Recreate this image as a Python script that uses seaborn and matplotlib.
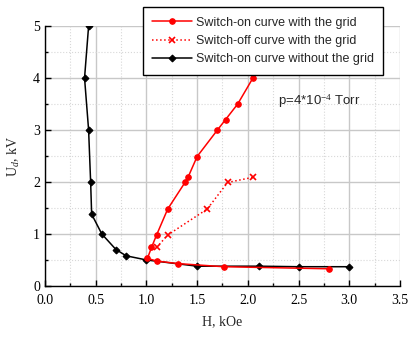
import matplotlib
matplotlib.use("Agg")
import matplotlib.pyplot as plt
from matplotlib.ticker import MultipleLocator
import seaborn as sns
import pandas as pd

# Switch-on curve with the grid (red, solid, circles)
on_grid_h = [2.80, 1.76, 1.31, 1.10, 1.01, 1.05, 1.10, 1.21, 1.38, 1.41, 1.50, 1.70, 1.78, 1.90, 2.05]
on_grid_u = [0.33, 0.37, 0.43, 0.48, 0.53, 0.74, 0.98, 1.48, 1.99, 2.09, 2.49, 3.00, 3.20, 3.50, 4.00]

# Switch-off curve with the grid (red, dotted, x)
off_grid_h = [1.10, 1.21, 1.60, 1.80, 2.05]
off_grid_u = [0.74, 0.98, 1.48, 1.99, 2.09]

# Switch-on curve without the grid (black, diamonds)
on_nogrid_h = [0.43, 0.39, 0.43, 0.45, 0.46, 0.56, 0.70, 0.80, 1.00, 1.50, 2.11, 2.50, 3.00]
on_nogrid_u = [5.00, 4.00, 3.00, 2.00, 1.38, 1.00, 0.70, 0.58, 0.50, 0.38, 0.38, 0.37, 0.37]

labels = ["Switch-on curve with the grid",
          "Switch-off curve with the grid",
          "Switch-on curve without the grid"]

sns.set_style("white")
plt.rcParams['font.family'] = ['Liberation Serif', 'DejaVu Serif']
plt.rcParams['mathtext.fontset'] = 'custom'
plt.rcParams['mathtext.rm'] = 'Liberation Serif'
plt.rcParams['mathtext.it'] = 'Liberation Serif:italic'

fig = plt.figure(figsize=(4.09, 3.38), dpi=100)
ax = fig.add_axes([0.110, 0.154, 0.868, 0.769])

df1 = pd.DataFrame({"H": on_grid_h, "U": on_grid_u})
df2 = pd.DataFrame({"H": off_grid_h, "U": off_grid_u})
df3 = pd.DataFrame({"H": on_nogrid_h, "U": on_nogrid_u})

sns.lineplot(data=df3, x="H", y="U", sort=False, estimator=None, ax=ax, color="black", lw=1.1,
             marker="D", markersize=3.5, markeredgecolor="black", label=labels[2], zorder=3)
sns.lineplot(data=df1, x="H", y="U", sort=False, estimator=None, ax=ax, color="#ff0000", lw=1.1,
             marker="o", markersize=4, markeredgecolor="#ff0000", label=labels[0], zorder=4)
sns.lineplot(data=df2, x="H", y="U", sort=False, estimator=None, ax=ax, color="#ff0000", lw=1.1,
             linestyle=":", marker="x", markersize=4.5, markeredgewidth=1.2,
             markeredgecolor="#ff0000", label=labels[1], zorder=4)

ax.set_xlim(0, 3.5)
ax.set_ylim(0, 5)
ax.xaxis.set_major_locator(MultipleLocator(0.5))
ax.xaxis.set_minor_locator(MultipleLocator(0.25))
ax.yaxis.set_major_locator(MultipleLocator(1))
ax.yaxis.set_minor_locator(MultipleLocator(0.5))
ax.xaxis.set_major_formatter(plt.FormatStrFormatter('%.1f'))
ax.yaxis.set_major_formatter(plt.FormatStrFormatter('%d'))

ax.grid(which='major', color='#c8c8c8', lw=1.0, linestyle='-')
ax.grid(which='minor', color='#d8d8d8', lw=0.8, linestyle=':')
ax.set_axisbelow(True)

for s in ['top', 'right']:
    ax.spines[s].set_visible(False)
for s in ['left', 'bottom']:
    ax.spines[s].set_color('black')
    ax.spines[s].set_linewidth(1.0)

ax.tick_params(which='major', direction='in', length=4, width=1, labelsize=10, colors='black')
ax.tick_params(which='minor', direction='in', length=2, width=1, colors='black')
ax.tick_params(axis='both', which='both', bottom=True, left=True)
ax.tick_params(axis='x', which='major', pad=6)

ax.set_xlabel("H, kOe", fontsize=10, labelpad=6)
ax.set_ylabel(r"U$_{d}$, kV", fontsize=10, labelpad=8)

ax.text(2.3, 3.56, r"p=4*10$^{-4}$ Torr", fontsize=9.5, va='center', ha='left',
        family=['Liberation Sans', 'DejaVu Sans'])

h, l = ax.get_legend_handles_labels()
order = [l.index(x) for x in labels]
leg = ax.legend([h[i] for i in order], [l[i] for i in order],
                loc='upper right', bbox_to_anchor=(0.937, 0.978),
                bbox_transform=fig.transFigure,
                prop={'family': ['Liberation Sans', 'DejaVu Sans'], 'size': 9},
                frameon=True, fancybox=False, edgecolor='black', framealpha=1,
                borderpad=0.75, labelspacing=0.5, handlelength=3.2,
                handletextpad=0.3, borderaxespad=0)
leg.get_frame().set_linewidth(1.0)
leg.set_zorder(10)

fig.savefig("out.png", dpi=100)
